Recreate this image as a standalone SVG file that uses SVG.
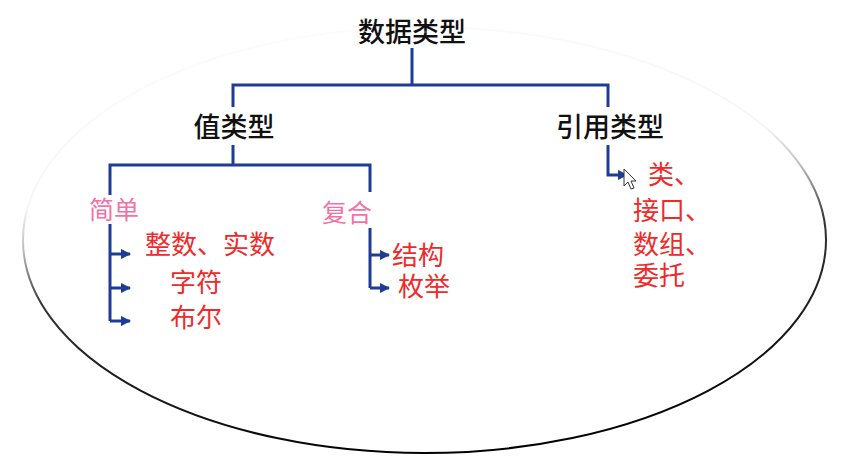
<svg xmlns="http://www.w3.org/2000/svg" width="849" height="469" viewBox="0 0 849 469">
<style>
.t{font-family:"Noto Sans CJK SC","Noto Sans",sans-serif;text-anchor:middle}
.h{fill:#111;font-size:27px;font-weight:500}
.p{fill:#f272a6;font-size:25px}
.r{fill:#ee2a2a;font-size:26px;text-anchor:start}
.c{fill:none;stroke:#1e3c96;stroke-width:3;stroke-linejoin:miter}
</style>
<defs>
<linearGradient id="eg" gradientUnits="userSpaceOnUse" x1="400" y1="30" x2="446" y2="453">
<stop offset="0" stop-color="#fbfbfb"/>
<stop offset="0.32" stop-color="#f6f6f6"/>
<stop offset="0.42" stop-color="#bbb"/>
<stop offset="0.55" stop-color="#333"/>
<stop offset="1" stop-color="#000"/>
</linearGradient>
<marker id="ar" viewBox="0 0 10 10" refX="9" refY="5" markerWidth="3.5" markerHeight="3.5" markerUnits="strokeWidth" orient="auto">
<path d="M0,0 L10,5 L0,10 Z" fill="#1e3c96"/>
</marker>
</defs>
<rect width="849" height="469" fill="#fff"/>
<ellipse id="frame" cx="424.5" cy="240" rx="401.5" ry="213" fill="none" stroke="url(#eg)" stroke-width="2"/>
<g id="connectors">
<path class="c" d="M412,48 V85 M233,107 V85 H608 V107"/>
<path class="c" d="M233,145 V165 M110,195 V165 H370 V192"/>
<path class="c" d="M110,224 V321"/>
<path class="c" d="M110,254 H130" marker-end="url(#ar)"/>
<path class="c" d="M110,288 H130" marker-end="url(#ar)"/>
<path class="c" d="M110,321 H130" marker-end="url(#ar)"/>
<path class="c" d="M370,228 V288"/>
<path class="c" d="M370,255 H389" marker-end="url(#ar)"/>
<path class="c" d="M370,288 H389" marker-end="url(#ar)"/>
<path class="c" d="M608,145 V175 H627" marker-end="url(#ar)"/>
</g>
<g id="root"><text class="t h" x="412" y="42">数据类型</text></g>
<g id="value"><text class="t h" x="234" y="137">值类型</text></g>
<g id="ref"><text class="t h" x="610" y="137">引用类型</text></g>
<g id="simple"><text class="t p" x="114" y="219">简单</text></g>
<g id="compound"><text class="t p" x="347" y="222">复合</text></g>
<g id="int"><text class="t r" x="145" y="254">整数、实数</text></g>
<g id="char"><text class="t r" x="170" y="292">字符</text></g>
<g id="bool"><text class="t r" x="170" y="327">布尔</text></g>
<g id="struct"><text class="t r" x="392" y="265">结构</text></g>
<g id="enum"><text class="t r" x="398" y="296">枚举</text></g>
<g id="refitems">
<text class="t r" x="648" y="184">类、</text>
<text class="t r" x="633" y="220">接口、</text>
<text class="t r" x="633" y="254">数组、</text>
<text class="t r" x="633" y="285">委托</text>
</g>
<path id="cursor" d="M624,169 L624,186 L628,182 L631,189 L634,188 L631,181 L636,181 Z" fill="#fff" stroke="#333" stroke-width="1"/>
</svg>
